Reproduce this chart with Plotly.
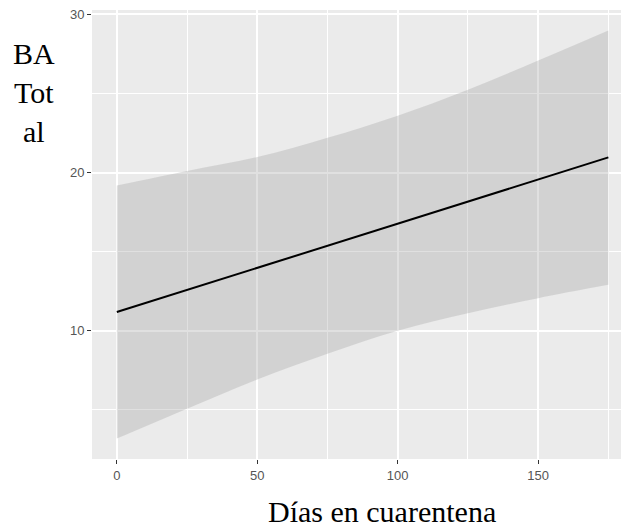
import plotly.graph_objects as go

dias = [0, 25, 50, 75, 100, 125, 150, 175]
ajuste = [11.18, 12.58, 13.96, 15.36, 16.77, 18.17, 19.57, 20.96]
inferior = [3.18, 5.07, 6.92, 8.55, 10.0, 11.1, 12.06, 12.9]
superior = [19.18, 20.1, 20.98, 22.2, 23.6, 25.24, 27.09, 28.99]

x_ticks = [0, 50, 100, 150]
y_ticks = [10, 20, 30]

fig = go.Figure()
fig.add_trace(go.Scatter(x=dias, y=inferior, mode="lines", line=dict(width=0, shape="spline"),
                         showlegend=False, hoverinfo="skip"))
fig.add_trace(go.Scatter(x=dias, y=superior, mode="lines", line=dict(width=0, shape="spline"),
                         fill="tonexty", fillcolor="rgba(160,160,160,0.32)",
                         showlegend=False, hoverinfo="skip"))
fig.add_trace(go.Scatter(x=dias, y=ajuste, mode="lines", line=dict(color="black", width=2),
                         showlegend=False))

tickfont = dict(family="Liberation Sans, Arial", size=13, color="#555555")

fig.update_layout(
    width=621, height=529,
    margin=dict(l=91.7, r=0, t=9.6, b=70.4, autoexpand=False),
    paper_bgcolor="white", plot_bgcolor="#EBEBEB",
    showlegend=False,
    xaxis=dict(range=[-8.83, 179.5], tickvals=x_ticks, ticktext=[str(v) for v in x_ticks],
               showgrid=True, gridcolor="white", gridwidth=1.6, zeroline=False,
               ticks="outside", ticklen=4, tickwidth=1.1, tickcolor="#333333",
               tickfont=tickfont,
               minor=dict(tickvals=[25, 75, 125, 175], showgrid=True, gridcolor="white",
                          gridwidth=0.8, ticks="")),
    yaxis=dict(range=[1.89, 30.28], tickvals=y_ticks, ticktext=[str(v) for v in y_ticks],
               showgrid=True, gridcolor="white", gridwidth=1.6, zeroline=False,
               ticks="outside", ticklen=4, tickwidth=1.1, tickcolor="#333333",
               tickfont=tickfont,
               minor=dict(tickvals=[5, 15, 25], showgrid=True, gridcolor="white",
                          gridwidth=0.8, ticks="")),
    annotations=[
        dict(text="BA<br>Tot<br>al", xref="paper", yref="paper", x=(34 - 91.7) / 529.3,
             y=1 + (9.6 - 35) / 448.9, xanchor="center", yanchor="top", showarrow=False,
             align="center", font=dict(family="Liberation Serif, Times New Roman", size=30, color="black")),
        dict(text="Días en cuarentena", xref="paper", yref="paper", x=(382 - 91.7) / 529.3,
             y=-(529 - 9.6 - 448.9) / 448.9, xanchor="center", yanchor="bottom", showarrow=False,
             font=dict(family="Liberation Serif, Times New Roman", size=30, color="black")),
    ],
)

fig.write_html("out.html")
